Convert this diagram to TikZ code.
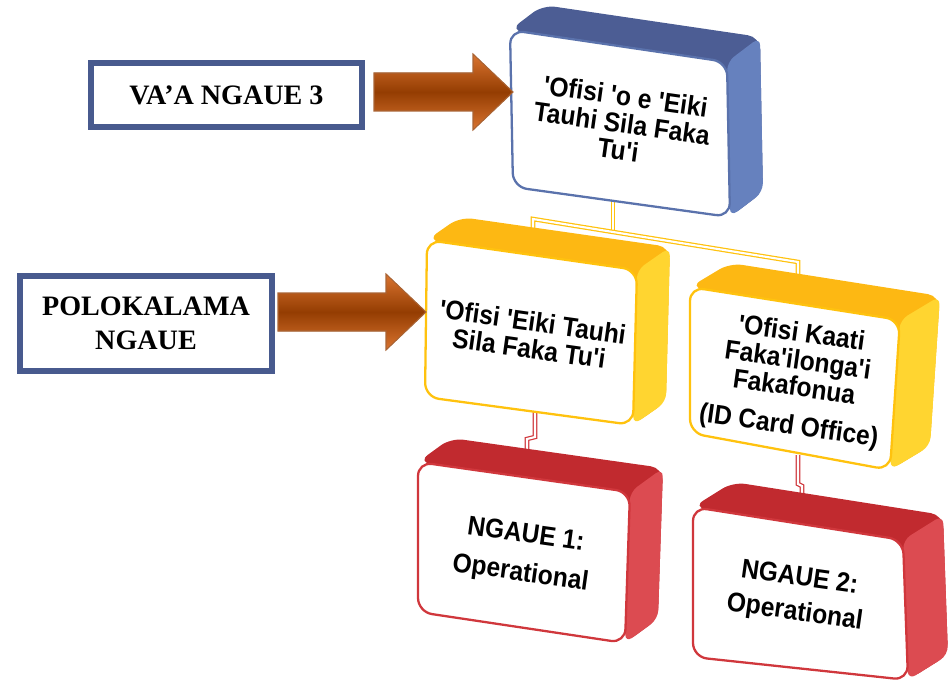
\documentclass[tikz,border=0pt]{standalone}
\usepackage{fontspec}
\setmainfont{Liberation Serif}
\newfontfamily\boxfont{Liberation Sans}[Ligatures=TeXOff]
\usepackage{tikz}
\usetikzlibrary{calc, positioning}

\definecolor{frameblue}{HTML}{485A8E}
\definecolor{bluetop}{HTML}{4C5D94}
\definecolor{blueside}{HTML}{6681BE}
\definecolor{blueline}{HTML}{5A72AC}
\definecolor{goldtop}{HTML}{FDB813}
\definecolor{goldside}{HTML}{FFD530}
\definecolor{goldline}{HTML}{FFC20E}
\definecolor{redtop}{HTML}{C12A2F}
\definecolor{redside}{HTML}{DC4B51}
\definecolor{redline}{HTML}{D0373C}
\definecolor{rustlight}{HTML}{DA7430}
\definecolor{rustdark}{HTML}{943D02}
\definecolor{rustshadow}{HTML}{552304}

% front corners TL, TR, BR, BL, depth, top, side, rim
\newcommand{\slab}[8]{%
	\fill[#6, rounded corners=7pt] (#1) -- ($(#1)+(#5)$) -- ($(#2)+(#5)$) -- ($(#3)+(#5)$) -- (#3) -- (#2) -- cycle;
	\fill[#7, rounded corners=5pt] (#2) -- ($(#2)+(#5)$) -- ($(#3)+(#5)$) -- (#3) -- cycle;
	\filldraw[fill=white, draw=#8, line width=1.3pt, rounded corners=8pt] (#1) -- (#2) -- (#3) -- (#4) -- cycle;
}
% fat arrow from tail to tip
\newcommand{\fatarrow}[2]{%
	\fill[rustshadow, shift={(4,5)}] ($(#1)+(0,-19)$) -- ($(#2)+(-40,-19)$) -- ($(#2)+(-40,-38)$) -- (#2) -- ($(#2)+(-40,38)$) -- ($(#2)+(-40,19)$) -- ($(#1)+(0,19)$) -- cycle;
	\shade[top color=rustlight, bottom color=rustlight, middle color=rustdark, draw=rustdark!80, line width=0.6pt] ($(#1)+(0,-19)$) -- ($(#2)+(-40,-19)$) -- ($(#2)+(-40,-38)$) -- (#2) -- ($(#2)+(-40,38)$) -- ($(#2)+(-40,19)$) -- ($(#1)+(0,19)$) -- cycle;
}

\begin{document}
\begin{tikzpicture}[x=0.02cm, y=-0.02cm,
	lbl/.style={draw=frameblue, line width=3.4pt, fill=white, align=center, inner sep=0pt, font=\bfseries\fontsize{16}{19}\selectfont},
	boxtext/.style={align=center, rotate=-8, yscale=1.1, transform shape, font=\boxfont\bfseries\fontsize{14}{14}\selectfont},
	link/.style={draw=#1, line width=0.7pt, double=white, double distance=1.2pt}]
		\useasboundingbox (0,0) rectangle (950,686);

		% corners of the boxes
		\coordinate (top-a) at (510,30);	\coordinate (top-b) at (727,62);
		\coordinate (top-c) at (730,217);	\coordinate (top-d) at (513,187);
		\coordinate (unit-a) at (427,240);	\coordinate (unit-b) at (637,270);
		\coordinate (unit-c) at (633,425);	\coordinate (unit-d) at (425,397);
		\coordinate (card-a) at (690,287);	\coordinate (card-b) at (900,320);
		\coordinate (card-c) at (890,470);	\coordinate (card-d) at (690,433);
		\coordinate (op1-a) at (418,462);	\coordinate (op1-b) at (630,492);
		\coordinate (op1-c) at (625,643);	\coordinate (op1-d) at (418,612);
		\coordinate (op2-a) at (693,507);	\coordinate (op2-b) at (903,540);
		\coordinate (op2-c) at (908,680);	\coordinate (op2-d) at (693,657);

		% connectors
		\coordinate (top-s) at (613,200);	\coordinate (fork) at (613,232);
		\coordinate (fork-l) at (533,219);	\coordinate (fork-r) at (798,262);
		\coordinate (unit-in) at (533,232);	\coordinate (card-in) at (798,278);
		\coordinate (unit-s) at (535,412);	\coordinate (op1-j) at (535,437);
		\coordinate (op1-k) at (527,439);	\coordinate (op1-in) at (527,456);
		\coordinate (card-s) at (798,455);	\coordinate (op2-j) at (798,484);
		\coordinate (op2-k) at (802,486);	\coordinate (op2-in) at (802,498);
		\draw[link=goldline] (top-s) -- (fork);
		\draw[link=goldline] (unit-in) -- (fork-l) -- (fork-r) -- (card-in);
		\draw[link=redline] (unit-s) -- (op1-j) -- (op1-k) -- (op1-in);
		\draw[link=redline] (card-s) -- (op2-j) -- (op2-k) -- (op2-in);

		\slab{top-a}{top-b}{top-c}{top-d}{33,-25}{bluetop}{blueside}{blueline}
		\slab{unit-a}{unit-b}{unit-c}{unit-d}{33,-23}{goldtop}{goldside}{goldline}
		\slab{card-a}{card-b}{card-c}{card-d}{40,-24}{goldtop}{goldside}{goldline}
		\slab{op1-a}{op1-b}{op1-c}{op1-d}{33,-24}{redtop}{redside}{redline}
		\slab{op2-a}{op2-b}{op2-c}{op2-d}{40,-25}{redtop}{redside}{redline}

		\node[boxtext]	(top)	at (622,123)	{'Ofisi 'o e 'Eiki\\Tauhi Sila Faka\\Tu'i};
		\node[boxtext]	(unit)	at (531,335)	{'Ofisi 'Eiki Tauhi\\Sila Faka Tu'i};
		\node[boxtext]	(card)	at (795,381)	{'Ofisi Kaati\\Faka'ilonga'i\\Fakafonua\\[6pt](ID Card Office)};
		\node[boxtext]	(op1)	at (523,555)	{NGAUE 1:\\[6pt]Operational};
		\node[boxtext]	(op2)	at (797,596)	{NGAUE 2:\\[4pt]Operational};

		% labels on the left
		\node[lbl, minimum width=5.42cm, minimum height=1.28cm]	(level)	at (226.5,95)	{VA’A NGAUE 3};
		\node[lbl, minimum width=5.04cm, minimum height=1.9cm]	(prog)	at (146,323.5)	{POLOKALAMA\\NGAUE};
		\coordinate (level-out) at (374,92);	\coordinate (top-in) at (513,92);
		\coordinate (prog-out) at (278,312);	\coordinate (unit-tip) at (426,312);
		\fatarrow{level-out}{top-in}
		\fatarrow{prog-out}{unit-tip}
\end{tikzpicture}
\end{document}
